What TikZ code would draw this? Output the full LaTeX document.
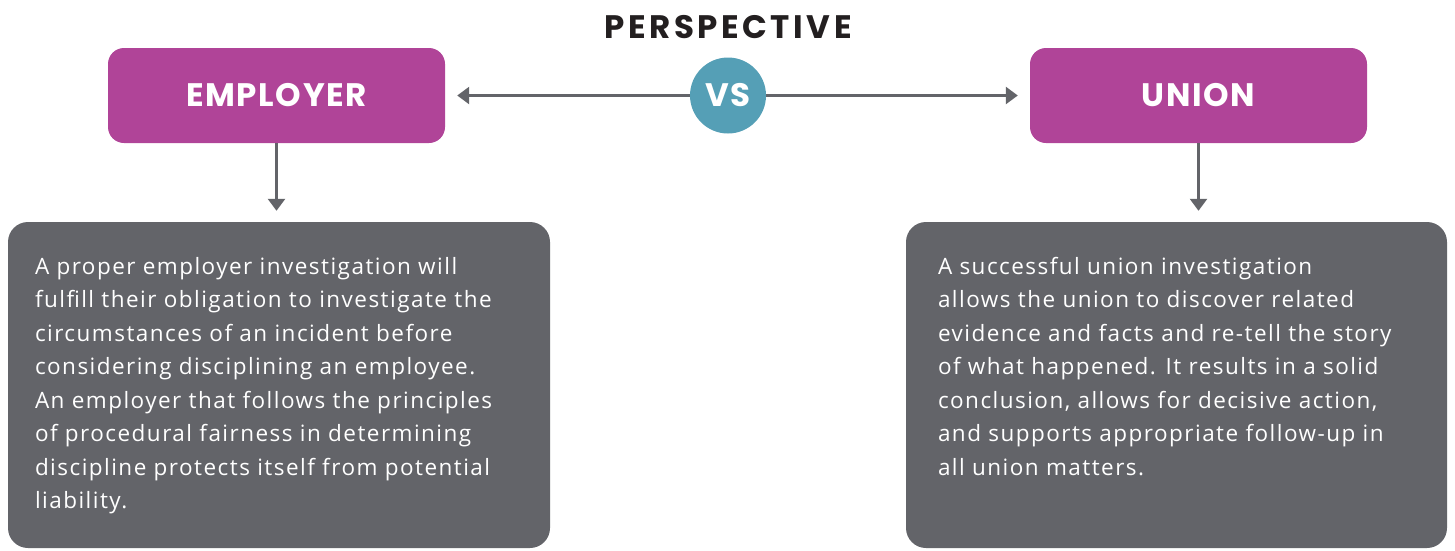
\documentclass[tikz,border=0pt]{standalone}
\usepackage{fontspec}
\setmainfont{Open Sans}[LetterSpace=6.5]
\newfontfamily\headfont{Poppins}[LetterSpace=5]
\newfontfamily\titlefont{Poppins}[LetterSpace=11]
\usetikzlibrary{arrows.meta}

\definecolor{plum}{RGB}{176,68,152}
\definecolor{teal}{RGB}{85,159,182}
\definecolor{slate}{RGB}{99,100,105}
\definecolor{ink}{RGB}{35,31,32}

\tikzset{
  headtext/.style={font=\headfont\bfseries\fontsize{32.5}{34}\selectfont},
  side/.style={headtext, fill=plum, rounded corners=16pt, minimum width=337pt,
    minimum height=95pt, inner sep=0pt, text=white},
  badge/.style={headtext, circle, fill=teal, minimum size=76pt, inner sep=0pt,
    text=white},
  panel/.style={fill=slate, rounded corners=20pt, minimum width=542pt,
    minimum height=326pt, inner sep=0pt},
  paneltext/.style={anchor=north west, inner sep=0pt, text=white, align=left,
    font=\fontsize{22.5}{33.5}\selectfont},
  link/.style={draw=slate, line width=2.5pt,
    -{Triangle[length=12pt,width=17pt]}},
}

\begin{document}
\begin{tikzpicture}[x=1pt, y=-1pt]
  \useasboundingbox (0,0) rectangle (1455,550);

  % heading
  \node (title) at (728,27) [text=ink,
    font=\titlefont\bfseries\fontsize{32.5}{34}\selectfont] {PERSPECTIVE};

  % the two sides
  \node (emp) at (276.5,95.5) [side] {EMPLOYER};
  \node (uni) at (1198.5,95.5) [side] {UNION};

  % central badge with the two-way link behind it
  \coordinate (mid) at (728,95.5);
  \draw[link] (mid) -- ([xshift=12pt]emp.east);
  \draw[link] (mid) -- ([xshift=-12pt]uni.west);
  \node (vs) at (mid) [badge] {VS};

  % explanation panels
  \node (empbody) at (279,385) [panel] {};
  \node (unibody) at (1176.5,385) [panel, minimum width=541pt] {};

  \draw[link] (emp.south) -- ([yshift=11pt]emp.south |- empbody.north);
  \draw[link] (uni.south) -- ([yshift=11pt]uni.south |- unibody.north);

  \node (emptext) at ([xshift=27pt, yshift=-35pt]empbody.north west) [paneltext] {%
    A proper employer investigation will\\
    fulfill their obligation to investigate the\\
    circumstances of an incident before\\
    considering disciplining an employee.\\
    An employer that follows the principles\\
    of procedural fairness in determining\\
    discipline protects itself from potential\\
    liability.};

  \node (unitext) at ([xshift=32pt, yshift=-35pt]unibody.north west) [paneltext] {%
    A successful union investigation\\
    allows the union to discover related\\
    evidence and facts and re-tell the story\\
    of what happened. It results in a solid\\
    conclusion, allows for decisive action,\\
    and supports appropriate follow-up in\\
    all union matters.};
\end{tikzpicture}
\end{document}
